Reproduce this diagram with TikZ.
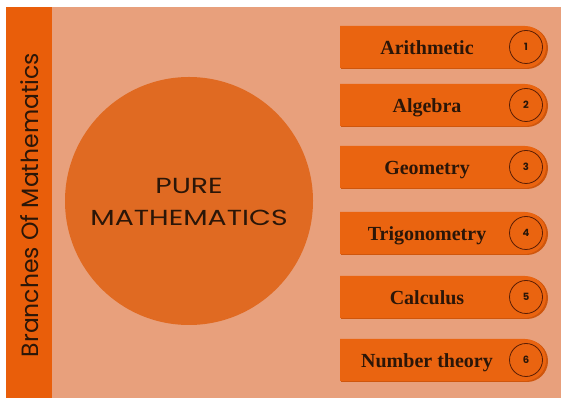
\documentclass[tikz,border=0pt]{standalone}
\usepackage{fontspec}
\setmainfont{Liberation Serif}
\newfontfamily\barfont{Poppins}
\newfontfamily\widefont[FakeStretch=1.3]{Poppins}
\newfontfamily\numfont{Poppins}
\definecolor{bgpeach}{HTML}{E8A07C}
\definecolor{barorange}{HTML}{E95E0A}
\definecolor{bigcirc}{HTML}{E06A22}
\definecolor{pillorange}{HTML}{EA6410}
\definecolor{pillshadow}{HTML}{CF560C}
\definecolor{inkbrown}{HTML}{2B1608}
\definecolor{ringbrown}{HTML}{5A1E05}
\tikzset{
  pilltext/.style={font=\fontsize{20}{22}\selectfont\bfseries, text=inkbrown, anchor=base},
  numring/.style={circle, draw=ringbrown, line width=0.8pt, minimum size=33pt, inner sep=0pt,
    font=\numfont\fontsize{10}{11}\selectfont\bfseries, text=inkbrown},
}
\begin{document}
\begin{tikzpicture}[x=1pt,y=1pt]
\useasboundingbox (0,0) rectangle (561,398);
\fill[white] (0,0) rectangle (561,398);
\fill[bgpeach] (6,0) rectangle (561,391);
\fill[barorange] (6,0) rectangle (52,391);
\node[rotate=90, font=\barfont\fontsize{23.5}{26}\selectfont, text=inkbrown] (side) at (30,193) {Branches Of Mathematics};
\fill[bigcirc] (189,197) circle[radius=124];
\node[inner sep=0pt] (bigc) at (189,197) {};
\node[font=\widefont\fontsize{21.8}{24}\selectfont, text=inkbrown, align=center] (pure) at (189,212) {PURE};
\node[font=\widefont\fontsize{21.8}{24}\selectfont, text=inkbrown, align=center] (pm) at (189,180) {MATHEMATICS};
\foreach \i/\c/\t in {1/351/Arithmetic,2/293/Algebra,3/231/Geometry,4/165/Trigonometry,5/101/Calculus,6/38/Number theory}{
  \fill[pillshadow] (341,\c+20) -- (527,\c+20) arc[start angle=90,end angle=-90,radius=21] -- (341,\c-22) -- cycle;
  \fill[pillorange] (340,\c+21) -- (525,\c+21) arc[start angle=90,end angle=-90,radius=21] -- (340,\c-21) -- cycle;
  \node[pilltext] (p\i) at (427,\c-7.5) {\t};
  \node[numring] (n\i) at (526,\c) {\i};
}
\end{tikzpicture}
\end{document}
